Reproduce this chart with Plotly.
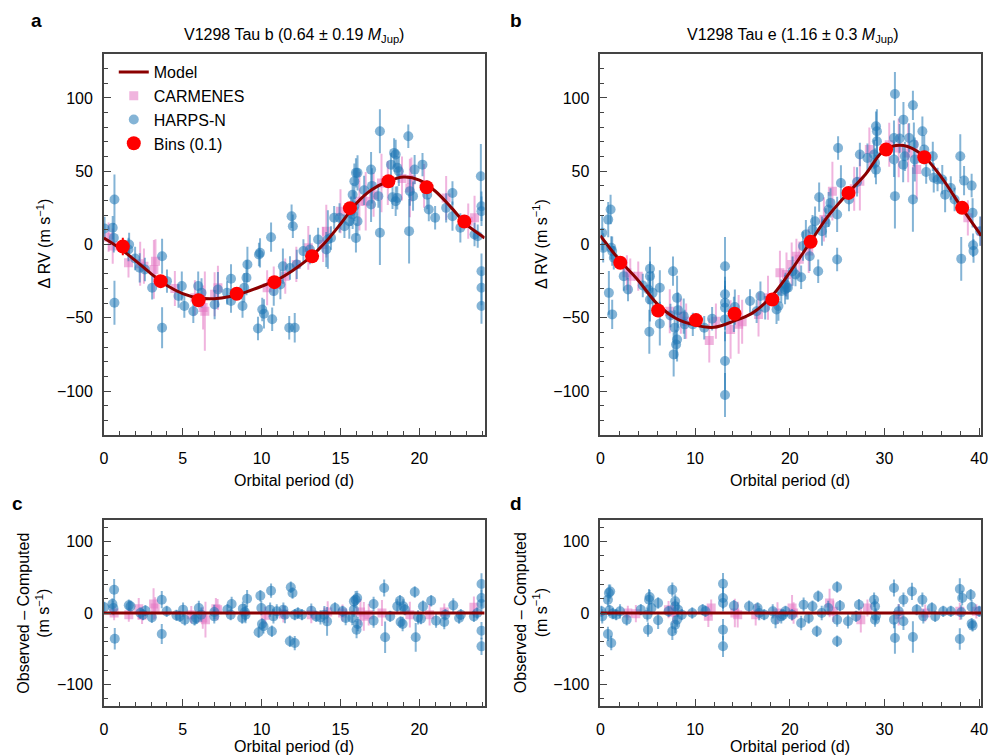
import plotly.graph_objects as go

W, H = 998, 755
FONT = "Liberation Sans, Arial, Helvetica, sans-serif"
AX = "#444444"
BLUE = "rgba(31,119,180,0.55)"
PINK = "rgba(227,119,194,0.55)"
MODEL_C = "#8b0000"
BIN_C = "#ff0000"

# ---------------- data : V1298 Tau b (panel a / c) ----------------
PERIOD_B = 24.14
model_b_x = [0, 1, 2, 3, 4, 5, 6, 7, 8, 9, 10, 11, 12, 13, 14, 15, 16, 17, 18, 19, 20, 21, 22, 23, 24, 24.14]
model_b_y = [4.5, -2.5, -11, -20, -28, -33.5, -36.5, -37, -35.5, -32.5, -28.5, -24, -17.5, -9.5, 1, 14, 28,
             37.5, 43, 46, 44, 36.5, 25.5, 13.5, 5.5, 4.5]
bins_b_x = [1.2, 3.6, 6.0, 8.42, 10.81, 13.2, 15.6, 18.04, 20.46, 22.85]
bins_b_y = [-1.4, -25, -38, -33.6, -25.7, -8.0, 24.8, 43.2, 39.1, 15.7]
bins_b_err = [6, 3, 3, 3, 3, 3, 3, 3, 3, 3]

# (phase-folded time [d], RV [m/s], error [m/s])
harps_b = [(0.04, 10.9, 8), (0.56, 11.4, 8), (0.67, 30.7, 17), (0.63, 4.5, 10), (0.67, -39.8, 15),
           (1.6, 0, 8), (1.56, -3.4, 8), (1.98, -9.5, 8), (2.27, -15.9, 10), (2.6, -17, 8),
           (3.06, -29.5, 8), (3.69, -8, 12), (3.69, -56.8, 14), (4.0, -25, 8), (4.73, -35.2, 8),
           (4.94, -28.4, 10), (5.1, -42, 8), (5.67, -45.5, 8), (5.98, -28.4, 10), (6.19, -33, 10),
           (7.02, -41, 10), (7.23, -30.7, 12), (7.81, -33, 8), (8.06, -23.4, 10), (8.06, -38.6, 8),
           (8.79, -42, 8), (8.9, -29.5, 10), (9.04, -22.7, 12), (9.1, -13.6, 12), (9.83, -6.8, 8),
           (9.9, -5.7, 10), (9.77, -57.3, 8), (10.04, -44.3, 8), (10.15, -47.3, 10), (10.6, 5, 10),
           (10.67, -51, 8), (10.77, -31.8, 10), (11.19, -27.3, 10), (11.35, -14.8, 12), (11.75, -56.8, 8),
           (12.1, -56.8, 10), (11.9, 19.3, 8), (11.98, 12.5, 8), (11.8, -16, 8), (12.23, -13.6, 10),
           (12.65, -4.5, 8), (13.06, -3.4, 10), (13.58, 3.4, 8), (14.1, -3.4, 12), (14.2, 3.4, 20),
           (14.4, 4.5, 8), (14.6, 18.2, 8), (14.94, 18.2, 10), (15.25, 12.5, 8), (15.56, 15.9, 12),
           (15.77, 34, 8), (15.88, 43.2, 12), (15.98, 48.9, 10), (16.08, 48.9, 12), (15.88, 26.1, 10),
           (15.77, 20.5, 10), (16.08, 15.9, 10), (15.98, 4.5, 10), (15.67, 22.7, 10), (16.94, 51.1, 12),
           (16.94, 27.3, 12), (17.5, 77.3, 15), (17.4, 33, 8), (17.5, 8, 22), (18.2, 54.5, 8),
           (18.4, 62.5, 10), (18.5, 61.4, 10), (18.6, 52.3, 8), (18.7, 50, 10), (18.3, 32.3, 8),
           (18.5, 29.5, 10), (18.6, 31.8, 8), (19.3, 73.9, 8), (19.4, 36.4, 10), (19.35, 9.1, 22),
           (19.7, 51.1, 10), (19.6, 33, 10), (20.2, 54.5, 8), (20.5, 34, 10), (20.6, 23.9, 8),
           (21.0, 18.2, 8), (21.7, 25, 10), (22.1, 35.2, 8), (22.1, 19.3, 10), (22.6, 11.4, 10),
           (23.5, 6.8, 8), (23.7, 5.7, 8), (23.9, 46.6, 22), (23.94, 26.1, 10), (23.94, 22.7, 10),
           (23.94, -18.2, 12), (23.94, -29.5, 12), (23.94, -42, 12), (16.5, 37, 10), (17.0, 40, 12)]

carmenes_b = [(0.56, -1.1, 12), (1.56, -12.5, 10), (2.3, -13.2, 15), (2.54, -14.8, 12), (3.17, -17, 20),
              (3.27, -11.4, 15), (5.77, -36.4, 12), (6.29, -43, 15), (6.4, -45.5, 27), (7.02, -34, 15),
              (7.23, -29.5, 15), (10.35, -29.5, 12), (10.77, -25, 10), (11.5, -21.6, 12), (12.2, -13.6, 12),
              (12.96, -2.3, 15), (14.1, 9.1, 18), (15.0, 22.7, 15), (16.2, 29.5, 20), (16.6, 29.5, 20),
              (17.1, 34, 15), (17.6, 42, 20), (19.5, 44.3, 15), (19.4, 38.6, 20), (21.7, 31.8, 15),
              (23.1, 15.9, 12), (23.5, 18.2, 15), (0.3, 5, 10), (18.0, 42, 15), (18.9, 45, 15),
              (20.3, 40, 15), (4.5, -30, 12), (13.9, 0, 12)]

resid_harps_b = [(0.02, 7.9, 8), (0.54, 12.6, 8), (0.65, 32.6, 15), (0.69, -35.9, 15), (0.6, 7, 10),
                 (1.58, 10.7, 8), (1.69, 9.3, 8), (2.31, 0, 8), (2.48, -2.3, 8), (2.63, 3.3, 8),
                 (3.04, -6.1, 8), (3.67, 18.6, 12), (3.67, -29.4, 14), (3.98, 2.3, 8), (4.6, -3.3, 8),
                 (4.81, -4.7, 8), (5.02, 4.7, 10), (5.13, -9.3, 8), (5.75, -9.3, 8), (5.85, -7, 8),
                 (6.02, 7, 10), (6.17, -2.3, 10), (7.0, 1.4, 10), (7.0, -4.7, 10), (7.83, 4.7, 8),
                 (8.1, 12.6, 10), (8.04, -2.3, 8), (8.77, -7, 8), (8.81, 6.1, 10), (8.94, 1.4, 12),
                 (8.98, -2.3, 12), (9.08, 20, 12), (9.81, -27, 8), (9.92, 24.2, 8), (10.02, -15.4, 8),
                 (10.12, -18.6, 10), (9.98, 7, 10), (10.6, 31.2, 10), (10.65, -25.6, 8), (10.54, 4.7, 10),
                 (10.75, -4.7, 10), (10.96, 2.3, 10), (11.38, 4.7, 10), (11.48, -2.3, 12), (11.79, -39.6, 8),
                 (11.85, 35.9, 8), (11.96, 28, 8), (12.1, -42, 10), (12.1, -2.3, 8), (12.3, 0, 8),
                 (12.56, -2.3, 8), (13.15, 3.3, 10), (13.46, -4.7, 8), (13.73, -6.1, 10), (13.98, -2.3, 12),
                 (14.15, -11.7, 20), (14.65, 7, 8), (15.13, 2.3, 8), (15.33, -7, 10), (15.75, -7, 10),
                 (15.85, 16.3, 8), (15.96, 18.6, 12), (16.06, 21, 10), (16.02, -23.3, 12), (16.1, -15.4, 10),
                 (15.85, 4.7, 10), (17.1, 12.6, 10), (17.1, -10.7, 10), (17.77, 35, 12), (17.83, -34, 22),
                 (18.15, -4.7, 8), (18.6, 9.3, 10), (18.77, 17.2, 8), (18.81, -12.6, 8), (18.94, -15.4, 10),
                 (18.98, 9.3, 10), (19.08, 4.7, 8), (19.71, 29.4, 8), (19.77, -34, 20), (19.92, -6.1, 10),
                 (20.1, -7.9, 8), (20.23, 9.3, 8), (20.75, 17.2, 8), (21.06, -10.7, 10), (21.58, -12.6, 10),
                 (21.65, -2.3, 8), (22.15, 10.7, 10), (22.52, -7, 8), (22.63, -2.3, 8), (23.46, -4.7, 8),
                 (23.67, 0, 8), (23.94, 40.6, 15), (23.94, 21, 12), (23.94, 12.6, 12), (23.94, -24.7, 12),
                 (23.94, -46.6, 12)]

resid_carmenes_b = [(0.65, 0, 10), (1.58, -2.3, 10), (2.21, 6.1, 15), (2.42, -3.3, 12), (3.15, 12.6, 22),
                    (3.25, 7, 15), (5.54, -2.3, 12), (6.27, -7, 15), (6.44, -9.3, 25), (7.1, 6.1, 15),
                    (7.21, 4.7, 15), (10.23, -3.3, 12), (11.38, -1.4, 12), (13.15, -2.3, 12), (14.19, 1.4, 15),
                    (15.13, 0, 12), (16.27, 1.4, 18), (16.48, -4.7, 20), (16.79, -2.3, 15), (17.63, 0, 18),
                    (19.4, -2.3, 18), (20.65, -2.3, 15), (21.58, 1.4, 12), (23.46, 7.9, 15)]

# ---------------- data : V1298 Tau e (panel b / d) ----------------
PERIOD_E = 40.2
model_e_x = [0, 2, 4, 6, 8, 10, 12, 14, 16, 18, 20, 22, 24, 26, 28, 30, 32, 34, 36, 38, 40, 40.2]
model_e_y = [6, -10.5, -24.5, -40.5, -50.5, -55, -56.5, -52.5, -47, -36, -19, 0, 19, 34, 48, 64.5, 67.5,
             61, 46, 26.5, 8, 6]
bins_e_x = [2.1, 6.1, 10.1, 14.17, 18.16, 22.2, 26.2, 30.17, 34.2, 38.2]
bins_e_y = [-12.5, -45, -51.6, -47.3, -37.5, 1.8, 35.2, 64.8, 59.5, 25]
bins_e_err = [3, 3, 3, 3, 3, 3, 3, 3, 3, 3]

harps_e = [(0.2, 8, 12), (0.3, -2.3, 10), (0.83, 17, 12), (1.08, 23.9, 10), (1.15, -2.3, 8), (1.25, -4.5, 10),
           (0.9, -33, 15), (1.25, -47.7, 10), (1.42, -9.1, 8), (2.47, -21.6, 10), (2.92, -30.7, 8),
           (4.48, -28, 8), (5.07, -30.7, 10), (5.24, -16.6, 15), (5.24, -21.6, 10), (5.24, -37.5, 15),
           (5.17, -59.5, 15), (5.52, -33, 15), (6.28, -29.5, 12), (6.28, -54, 15), (7.67, -18.2, 10),
           (7.4, -48.4, 8), (7.85, -56.8, 12), (8.1, -36.4, 15), (8.2, -44.8, 12), (8.1, -64.8, 15),
           (8.0, -68.2, 10), (7.74, -75, 15), (8.8, -48.9, 12), (8.9, -54.5, 10), (9.76, -54.5, 8),
           (10.97, -56.8, 8), (11.8, -50.7, 8), (13.16, -14.8, 20), (13.16, -34, 12), (13.16, -39.8, 15),
           (13.16, -43.2, 15), (13.16, -51.1, 15), (13.16, -79.5, 20), (13.16, -102.7, 15), (14.2, -42.7, 12),
           (14.1, -47.7, 12), (15.8, -38.6, 8), (16.5, -45.5, 8), (16.9, -35.2, 10), (17.4, -43.2, 8),
           (18.6, -44.3, 10), (18.8, -42, 10), (19.1, -31.8, 8), (19.5, -30.7, 10), (19.55, -27.3, 8),
           (19.65, -29.5, 8), (19.8, -29.5, 8), (20.3, -18.2, 10), (20.6, -20.5, 8), (21.2, -22.3, 8),
           (21.4, -1.1, 10), (21.7, 6.8, 10), (22.1, -8, 10), (22.4, 10.2, 10), (22.67, 15.9, 10),
           (23.0, -18.2, 8), (23.1, 32.3, 10), (23.4, 9.1, 10), (23.8, 14.8, 10), (24.1, 23.9, 12),
           (24.3, 28.4, 10), (25.0, 20.5, 12), (25.1, 65.9, 8), (25.0, -10.2, 8), (25.4, 42, 12),
           (26.25, 30.7, 8), (27.1, 42.7, 10), (27.4, 61.4, 8), (28.2, 59, 10), (28.9, 61.4, 10),
           (29.0, 55.7, 10), (29.1, 51.1, 10), (29.1, 80.7, 10), (29.2, 77.3, 15), (29.2, 70.5, 12),
           (31.0, 72.7, 12), (31.1, 102.7, 15), (31.0, 58, 12), (31.1, 33, 22), (31.6, 72.3, 10),
           (31.97, 54.5, 12), (32.0, 85.2, 12), (32.15, 60.2, 10), (32.6, 72.7, 10), (33.0, 95, 10),
           (33.1, 68.2, 15), (33.0, 30.7, 22), (33.2, 58, 15), (34.0, 77.3, 10), (34.2, 64.8, 10),
           (34.4, 49.5, 8), (35.1, 60.2, 10), (35.2, 45.5, 10), (35.6, 44.3, 8), (36.1, 44.3, 10),
           (36.4, 34, 12), (37.0, 38.6, 8), (37.4, 30.7, 8), (38.0, 60.2, 15), (38.4, 43.6, 10),
           (38.1, -9.8, 15), (39.2, 40.2, 8), (39.3, 21.6, 10), (39.35, -0.5, 8), (39.4, -4.5, 8),
           (40.1, 9.1, 10)]

carmenes_e = [(2.8, -19.3, 12), (3.16, -21.6, 12), (4.0, -21.6, 10), (7.33, -45.5, 15), (8.5, -48.9, 12),
              (9.06, -52.3, 12), (11.5, -65.5, 15), (12.2, -52.3, 12), (13.75, -58, 20), (14.6, -54.5, 20),
              (14.97, -52.7, 15), (16.7, -47.7, 15), (17.7, -36.4, 15), (18.96, -19.3, 15), (19.65, -20.5, 15),
              (20.2, -13.6, 15), (20.7, -8, 12), (22.0, -4.5, 15), (23.6, 17, 15), (24.5, 36.4, 20),
              (27.4, 43.2, 20), (28.4, 64.8, 15), (31.5, 65.9, 20), (32.5, 62.5, 20), (33.4, 51.1, 20),
              (38.8, 18.2, 12), (40.2, 9, 10), (21.0, -10, 12), (26.8, 38, 15), (30.5, 68, 15)]

resid_harps_e = [(0.1, 2.3, 8), (0.2, -4.7, 10), (0.8, 18.6, 10), (0.9, 27.9, 12), (1.04, 30, 10),
                 (0.8, -29.3, 10), (1.15, -41.9, 10), (0.97, 3.7, 8), (1.3, -0.9, 8), (1.67, -2.3, 8),
                 (2.08, 2.3, 10), (2.78, -9.3, 8), (4.27, 4.7, 8), (4.97, -2.3, 10), (5.03, -23.3, 10),
                 (5.14, 18.6, 15), (5.2, 22.3, 10), (5.4, 7, 10), (6.1, 14, 8), (6.1, -10.2, 12),
                 (7.2, 2.3, 8), (7.6, 32.6, 10), (7.6, -25.6, 12), (7.9, 16.3, 10), (7.9, 9.3, 10),
                 (7.9, -16.3, 12), (8.1, -9.3, 10), (8.2, 4.7, 10), (8.6, -2.3, 8), (9.7, 0, 8),
                 (10.8, 4.7, 8), (11.1, 2.3, 8), (12.95, 41, 15), (12.95, 20.9, 15), (12.95, 14, 12),
                 (12.95, -23.3, 15), (12.95, -46.5, 15), (14.1, 10.2, 8), (15.7, 9.3, 8), (16.6, 7, 8),
                 (16.77, 0, 10), (17.3, -2.3, 8), (18.2, 2.3, 10), (18.5, -9.3, 12), (19.1, -4.7, 10),
                 (19.3, -2.3, 8), (19.55, 2.3, 8), (20.24, -2.3, 8), (21.2, -14, 10), (21.46, 11.6, 10),
                 (22.0, -7, 8), (22.4, 9.3, 8), (22.85, -25.6, 8), (23.0, 23.3, 8), (23.37, 0, 10),
                 (24.06, 7, 10), (25.0, 36.3, 8), (25.0, -9.3, 10), (25.0, -39.5, 8), (25.3, 10.2, 8),
                 (26.15, -11.6, 10), (27.0, -4.7, 8), (27.3, 11.6, 8), (28.9, 18.6, 10), (29.0, 9.3, 10),
                 (29.0, -9.3, 10), (29.1, -3.7, 10), (31.0, 35, 12), (31.0, -9.3, 12), (31.1, -35, 22),
                 (31.5, 2.3, 10), (32.0, 18.6, 10), (32.0, -11.6, 12), (32.9, 30.2, 12), (33.0, -33.5, 22),
                 (33.4, 4.7, 8), (34.0, 18.6, 10), (34.1, -4.7, 10), (35.0, 7, 8), (35.35, -4.7, 8),
                 (36.2, 2.3, 8), (37.0, 2.3, 8), (37.95, 33.5, 15), (37.95, -36.3, 15), (38.1, 0.9, 10),
                 (38.2, 21, 10), (39.1, 25.6, 8), (39.2, 8.4, 10), (39.2, -14.9, 8), (39.3, -17.7, 8),
                 (40.0, 2.3, 8)]

resid_carmenes_e = [(2.9, 0, 10), (3.75, -0.9, 12), (7.2, 4.7, 12), (7.7, 0.9, 15), (11.4, -4.7, 15),
                    (11.7, 7, 12), (14.2, 0, 20), (14.5, -2.3, 18), (16.4, -2.3, 15), (18.7, 0, 15),
                    (20.24, 7, 18), (20.4, 0, 15), (24.2, 14, 20), (24.6, 2.3, 15), (27.5, -9.3, 18),
                    (28.2, 7, 12), (31.5, -2.3, 15), (34.3, 0, 12), (37.95, 2.3, 12), (39.7, 2.3, 10)]

resid_zero_b_x = [0, PERIOD_B]
resid_zero_e_x = [0, PERIOD_E]
resid_zero_y = [0, 0]


def cols(pts):
    return [p[0] for p in pts], [p[1] for p in pts], [p[2] for p in pts]


def px(xp, yp):
    return xp / W, 1 - yp / H


fig = go.Figure()


def add_panel(n, car, har, mx, my, bx=None, by=None, be=None, legend=False, mwidth=3):
    xa = "x" if n == 1 else f"x{n}"
    ya = "y" if n == 1 else f"y{n}"
    cx, cy, ce = cols(car)
    fig.add_trace(go.Scatter(
        x=cx, y=cy, mode="markers", name="CARMENES", legendrank=2, showlegend=legend,
        marker=dict(symbol="square", size=9, color=PINK, line=dict(width=0)),
        error_y=dict(type="data", array=ce, color=PINK, thickness=2, width=0),
        xaxis=xa, yaxis=ya))
    hx, hy, he = cols(har)
    fig.add_trace(go.Scatter(
        x=hx, y=hy, mode="markers", name="HARPS-N", legendrank=3, showlegend=legend,
        marker=dict(symbol="circle", size=10, color=BLUE, line=dict(width=0)),
        error_y=dict(type="data", array=he, color=BLUE, thickness=2, width=0),
        xaxis=xa, yaxis=ya))
    fig.add_trace(go.Scatter(
        x=mx, y=my, mode="lines", name="Model", legendrank=1, showlegend=legend,
        line=dict(color=MODEL_C, width=mwidth, shape="spline", smoothing=1.0),
        xaxis=xa, yaxis=ya))
    if bx is not None:
        fig.add_trace(go.Scatter(
            x=bx, y=by, mode="markers", name="Bins (0.1)", legendrank=4, showlegend=legend,
            marker=dict(symbol="circle", size=14, color=BIN_C, line=dict(width=0)),
            error_y=dict(type="data", array=be, color=BIN_C, thickness=2, width=0),
            xaxis=xa, yaxis=ya))


add_panel(1, carmenes_b, harps_b, model_b_x, model_b_y, bins_b_x, bins_b_y, bins_b_err, legend=True)
add_panel(2, carmenes_e, harps_e, model_e_x, model_e_y, bins_e_x, bins_e_y, bins_e_err)
add_panel(3, resid_carmenes_b, resid_harps_b, resid_zero_b_x, resid_zero_y)
add_panel(4, resid_carmenes_e, resid_harps_e, resid_zero_e_x, resid_zero_y)

TF = dict(family=FONT, size=16, color="black")


def xax(dom, rng, dtick, mdt, anchor):
    return dict(domain=dom, range=rng, anchor=anchor, showline=True, mirror=True, linecolor=AX,
                linewidth=1.5, ticks="inside", ticklen=7, tickwidth=1.2, tickcolor=AX, tick0=0,
                dtick=dtick, minor=dict(ticks="inside", dtick=mdt, tick0=0, ticklen=4, tickwidth=1,
                                        tickcolor=AX, showgrid=False),
                showgrid=False, zeroline=False, tickfont=TF, ticklabelstandoff=8)


def yax(dom, dtick, mdt, anchor):
    return dict(domain=dom, range=[-130, 130], anchor=anchor, showline=True, mirror=True, linecolor=AX,
                linewidth=1.5, ticks="inside", ticklen=7, tickwidth=1.2, tickcolor=AX, tick0=0,
                dtick=dtick, minor=dict(ticks="inside", dtick=mdt, tick0=0, ticklen=4, tickwidth=1,
                                        tickcolor=AX, showgrid=False),
                showgrid=False, zeroline=False, tickfont=TF, ticklabelstandoff=6)


xa_l = [101 / W, 486 / W]
xa_r = [603 / W, 988 / W]
ya_t = [1 - 435 / H, 1 - 54 / H]
ya_b = [1 - 706 / H, 1 - 520 / H]

fig.update_layout(
    width=W, height=H, autosize=False,
    margin=dict(l=0, r=0, t=0, b=0),
    paper_bgcolor="white", plot_bgcolor="white",
    font=dict(family=FONT, size=16, color="black"),
    xaxis=xax(xa_l, [0, PERIOD_B], 5, 1, "y"),
    yaxis=yax(ya_t, 50, 10, "x"),
    xaxis2=xax(xa_r, [0, PERIOD_E], 10, 2, "y2"),
    yaxis2=yax(ya_t, 50, 10, "x2"),
    xaxis3=xax(xa_l, [0, PERIOD_B], 5, 1, "y3"),
    yaxis3=yax(ya_b, 100, 20, "x3"),
    xaxis4=xax(xa_r, [0, PERIOD_E], 10, 2, "y4"),
    yaxis4=yax(ya_b, 100, 20, "x4"),
    legend=dict(x=111 / W, y=1 - 55 / H, xanchor="left", yanchor="top", bgcolor="rgba(0,0,0,0)",
                font=dict(family=FONT, size=16, color="black"), itemsizing="trace", tracegroupgap=0,
                borderwidth=0),
    showlegend=True,
)

ann = []


def add_text(text, xp, yp, size=16, angle=0, bold=False):
    x, y = px(xp, yp)
    t = f"<b>{text}</b>" if bold else text
    ann.append(dict(text=t, x=x, y=y, xref="paper", yref="paper", xanchor="center", yanchor="middle",
                    showarrow=False, textangle=angle, font=dict(family=FONT, size=size, color="black")))


add_text("V1298 Tau b (0.64 ± 0.19 <i>M</i><sub>Jup</sub>)", 293, 35)
add_text("V1298 Tau e (1.16 ± 0.3 <i>M</i><sub>Jup</sub>)", 798, 35)
add_text("a", 33, 21, size=19, bold=True)
add_text("b", 518, 21, size=19, bold=True)
add_text("c", 14, 503, size=19, bold=True)
add_text("d", 518, 503, size=19, bold=True)
add_text("Δ RV (m s<sup>−1</sup>)", 40, 244, angle=-90)
add_text("Δ RV (m s<sup>−1</sup>)", 542, 244, angle=-90)
add_text("Observed – Computed<br>(m s<sup>−1</sup>)", 30, 613, angle=-90)
add_text("Observed – Computed<br>(m s<sup>−1</sup>)", 533, 613, angle=-90)
add_text("Orbital period (d)", 293, 480)
add_text("Orbital period (d)", 795, 480)
add_text("Orbital period (d)", 293, 746)
add_text("Orbital period (d)", 795, 746)
fig.update_layout(annotations=ann)

fig.write_html("out.html")
